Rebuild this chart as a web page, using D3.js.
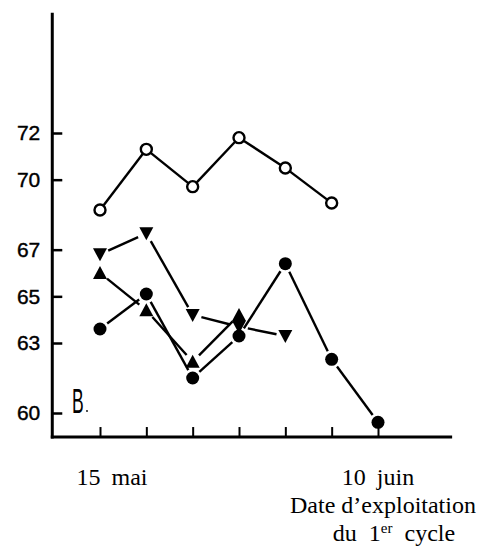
<!DOCTYPE html>
<html>
<head>
<meta charset="utf-8">
<script src="https://cdn.jsdelivr.net/npm/d3@7"></script>
<style>
  body { margin: 0; background: #fff; }
  svg { display: block; }
</style>
</head>
<body>
<svg class="chart"></svg>
<script>
// sampling dates (index 0 = 15 mai, index 6 = 10 juin)
var dates = [0, 1, 2, 3, 4, 5, 6];
var dateLabels = [{ i: 0, text: '15 mai' }, { i: 6, text: '10 juin' }];
var yTicks = [60, 63, 65, 67, 70, 72];

// series
var openCircles = [68.7, 71.3, 69.7, 71.8, 70.5, 69.0];
var downTriangles = [66.8, 67.7, 64.2, 63.7, 63.3];
var upTriangles = [66.0, 64.4, 62.2, 64.2];
var filledCircles = [63.6, 65.1, 61.5, 63.3, 66.4, 62.3, 59.6];

var width = 497, height = 553;

var svg = d3.select('.chart')
    .attr('width', width)
    .attr('height', height);

var x = d3.scaleLinear()
    .domain([0, 6])
    .range([100, 378]);

var y = d3.scaleLinear()
    .domain([60, 72])
    .range([413, 133]);

var x0 = x(-1.03), x1 = x(7.6);
var yBottom = y(58.97), yTop = y(77.15);

// axis lines
svg.append('line')
    .attr('x1', x0).attr('x2', x0)
    .attr('y1', yTop).attr('y2', yBottom + 1.5)
    .attr('stroke', '#000').attr('stroke-width', 3);
svg.append('line')
    .attr('x1', x0 - 1.5).attr('x2', x1)
    .attr('y1', yBottom).attr('y2', yBottom)
    .attr('stroke', '#000').attr('stroke-width', 3);

// y ticks pointing inward
var yAxis = svg.append('g')
    .attr('transform', `translate(${x0}, 0)`)
    .call(d3.axisLeft(y).tickValues(yTicks).tickSize(-10).tickPadding(12));
yAxis.select('.domain').remove();
yAxis.selectAll('.tick line').attr('stroke-width', 2.5);
yAxis.selectAll('.tick text')
    .attr('font-family', 'Liberation Sans, Arial, sans-serif')
    .attr('font-size', 21)
    .attr('stroke', '#000')
    .attr('stroke-width', 0.4)
    .attr('fill', '#000');

// x ticks pointing upward
var xAxis = svg.append('g')
    .attr('transform', `translate(0, ${yBottom})`)
    .call(d3.axisBottom(x).tickValues(dates).tickSize(-10).tickFormat(''));
xAxis.select('.domain').remove();
xAxis.selectAll('.tick line').attr('stroke-width', 2);

var serif = 'Liberation Serif, serif';

// date labels
svg.selectAll('.date-label')
    .data(dateLabels)
  .enter().append('text')
    .attr('class', 'date-label')
    .attr('x', function(d) { return d.i === 0 ? x(d.i) + 12 : x(d.i); })
    .attr('y', 485)
    .attr('text-anchor', 'middle')
    .attr('font-family', serif)
    .attr('font-size', 24)
    .attr('word-spacing', 5)
    .text(function(d) { return d.text; });

svg.append('text')
    .attr('x', x(6) + 5)
    .attr('y', 513)
    .attr('text-anchor', 'middle')
    .attr('font-family', serif)
    .attr('font-size', 24)
    .text('Date d\u2019exploitation');

var cyc = svg.append('text')
    .attr('x', x(6) + 16)
    .attr('y', 541)
    .attr('text-anchor', 'middle')
    .attr('font-family', serif)
    .attr('font-size', 24)
    .attr('word-spacing', 6);
cyc.append('tspan').text('du 1');
cyc.append('tspan').attr('dy', -8).attr('font-size', 15).text('er');
cyc.append('tspan').attr('dy', 8).text(' cycle');

// panel letter, tall and narrow
svg.append('text')
    .attr('transform', 'translate(72, 413) scale(0.5, 1)')
    .attr('font-family', 'Liberation Sans, sans-serif')
    .attr('font-size', 35)
    .text('B');
svg.append('circle')
    .attr('cx', 87).attr('cy', 411).attr('r', 0.9).attr('fill', '#000');

// draw a series with short gaps between segments and markers
function series(values, marker, gap) {
    var pts = values.map(function(v, i) { return [x(i), y(v)]; });
    var g = svg.append('g');
    for (var i = 0; i < pts.length - 1; i++) {
        var a = pts[i], b = pts[i + 1];
        var dx = b[0] - a[0], dy = b[1] - a[1];
        var len = Math.sqrt(dx * dx + dy * dy);
        var ux = dx / len, uy = dy / len;
        g.append('line')
            .attr('x1', a[0] + ux * gap).attr('y1', a[1] + uy * gap)
            .attr('x2', b[0] - ux * gap).attr('y2', b[1] - uy * gap)
            .attr('stroke', '#000').attr('stroke-width', 2.4);
    }
    pts.forEach(function(p) { marker(g, p); });
}

function openCircle(g, p) {
    g.append('circle').attr('cx', p[0]).attr('cy', p[1]).attr('r', 5.5)
        .attr('fill', '#fff').attr('stroke', '#000').attr('stroke-width', 2.4);
}
function filledCircle(g, p) {
    g.append('circle').attr('cx', p[0]).attr('cy', p[1]).attr('r', 6.5)
        .attr('fill', '#000');
}
function downTri(g, p) {
    g.append('path')
        .attr('d', `M${p[0] - 7},${p[1] - 6}L${p[0] + 7},${p[1] - 6}L${p[0]},${p[1] + 7}Z`)
        .attr('fill', '#000');
}
function upTri(g, p) {
    g.append('path')
        .attr('d', `M${p[0] - 7},${p[1] + 6}L${p[0] + 7},${p[1] + 6}L${p[0]},${p[1] - 7}Z`)
        .attr('fill', '#000');
}

series(openCircles, openCircle, 6);
series(upTriangles, upTri, 9);
series(filledCircles, filledCircle, 9);
series(downTriangles, downTri, 9);
</script>
</body>
</html>
